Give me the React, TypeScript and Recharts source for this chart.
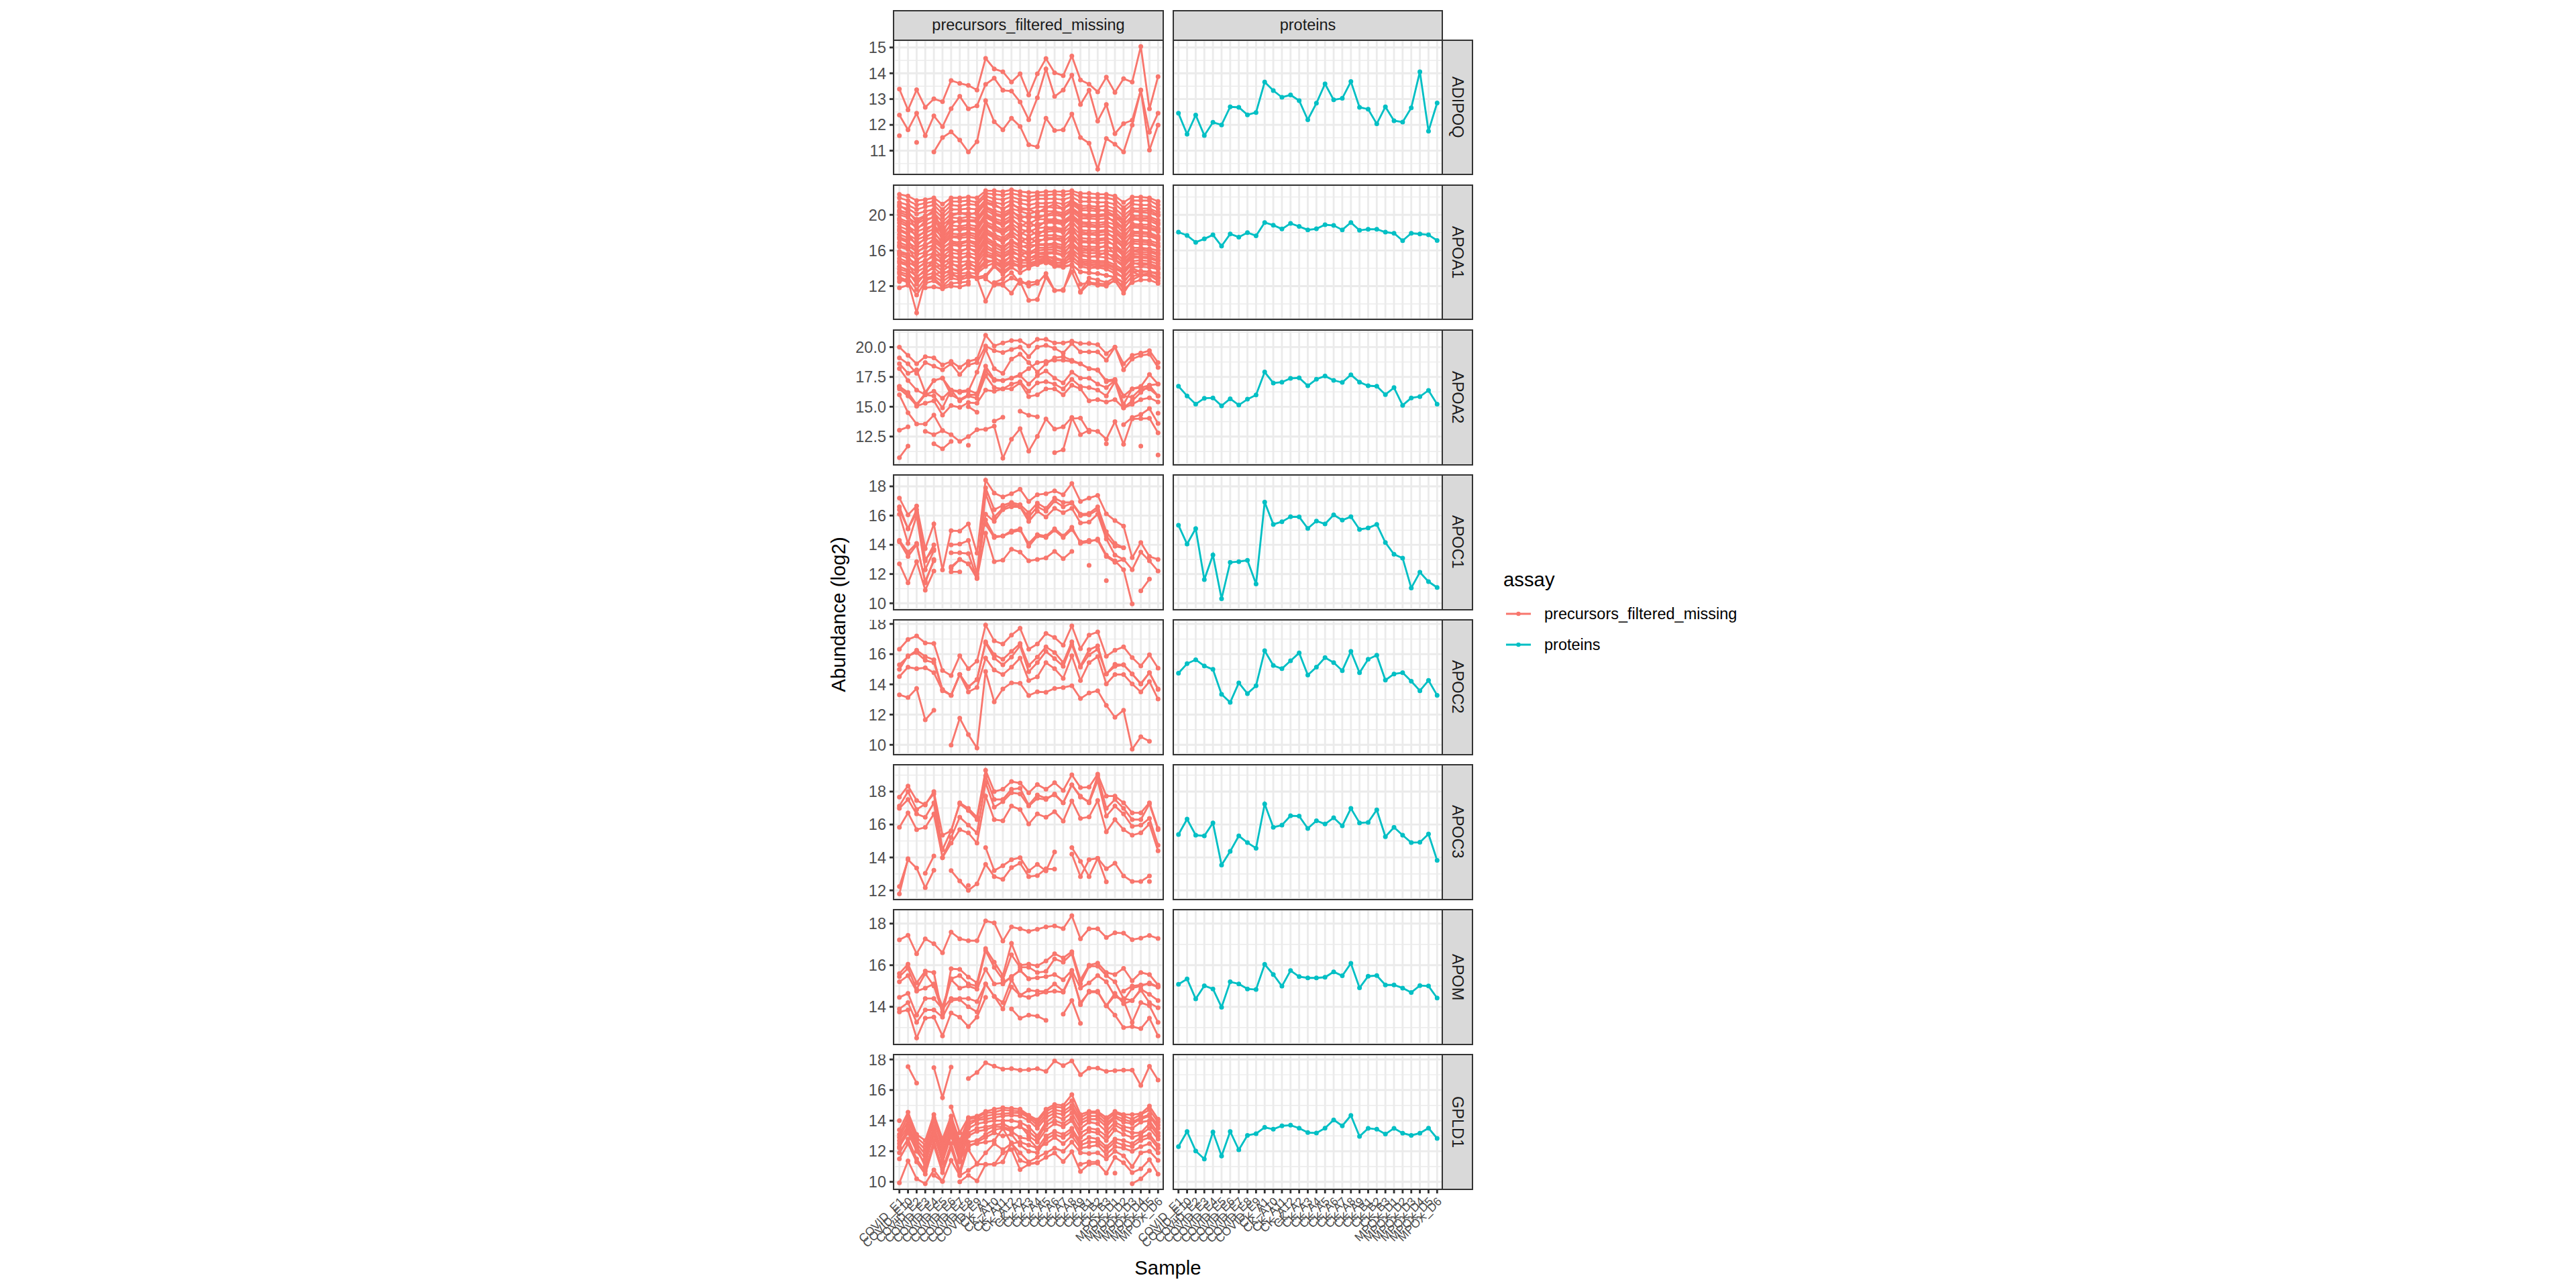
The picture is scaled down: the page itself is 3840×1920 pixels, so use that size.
import { CartesianGrid, Line, LineChart, ReferenceLine, XAxis, YAxis } from 'recharts';

const _ = null;

const samples = [
  'COVID_E1', 'COVID_E10', 'COVID_E2', 'COVID_E3', 'COVID_E4', 'COVID_E5', 'COVID_E6', 'COVID_E7', 'COVID_E8', 'COVID_E9',
  'CK_A1', 'CK_A10', 'CK_A11', 'CK_A12', 'CK_A2', 'CK_A3', 'CK_A4', 'CK_A5', 'CK_A6', 'CK_A7', 'CK_A8', 'CK_A9',
  'CK_B1', 'CK_B2', 'CK_B3',
  'MPOX_D1', 'MPOX_D2', 'MPOX_D3', 'MPOX_D4', 'MPOX_D5', 'MPOX_D6',
];

const adipoqProtein = [12.45, 11.64, 12.38, 11.59, 12.1, 12.0, 12.7, 12.68, 12.39, 12.48, 13.66, 13.33, 13.07, 13.16, 12.94, 12.2, 12.84, 13.59, 12.97, 13.03, 13.68, 12.68, 12.61, 12.04, 12.7, 12.16, 12.11, 12.66, 14.06, 11.76, 12.85];
const adipoqPrecursors = [
  [13.39, 12.58, 13.36, 12.68, 13.01, 12.9, 13.72, 13.61, 13.53, 13.35, 14.58, 14.17, 14.06, 13.66, 13.98, 13.16, 13.98, 14.57, 14.02, 13.91, 14.67, 13.74, 13.58, 13.28, 13.85, 13.26, 13.79, 13.66, 15.04, 12.62, 13.87],
  [12.38, 11.81, 12.45, 11.58, 12.35, 11.93, 12.63, 13.11, 12.62, 12.74, 13.57, 13.81, 13.34, 13.31, 12.89, 12.2, 13.05, 14.17, 13.1, 13.35, 13.93, 12.79, 13.34, 12.15, 12.79, 11.66, 12.05, 12.18, 13.35, 11.72, 12.45],
  [11.58, _, 11.32, _, 10.95, 11.51, 11.73, 11.41, 10.95, 11.35, 12.94, 12.12, 11.81, 12.26, 11.94, 11.23, 11.15, 12.26, 11.78, 11.81, 12.42, 11.51, 11.29, 10.28, 11.47, 11.25, 10.95, 11.99, 13.35, 11.02, 11.99],
];

const apoa1Protein = [18.06, 17.68, 16.92, 17.3, 17.75, 16.49, 17.85, 17.5, 18.0, 17.65, 19.14, 18.84, 18.41, 19.04, 18.69, 18.31, 18.43, 18.89, 18.81, 18.31, 19.14, 18.26, 18.38, 18.38, 18.06, 17.93, 17.1, 17.93, 17.85, 17.75, 17.12];
const apoa1Precursors = [
  [22.3, 22.1, 21.6, 21.7, 21.9, 21.2, 21.9, 21.9, 22.0, 21.9, 22.7, 22.7, 22.6, 22.8, 22.6, 22.5, 22.5, 22.6, 22.6, 22.6, 22.7, 22.4, 22.4, 22.3, 22.3, 22.1, 21.4, 22.0, 22.0, 21.9, 21.5],
  [21.9, 21.6, 21.1, 21.3, 21.5, 20.6, 21.5, 21.5, 21.6, 21.4, 22.4, 22.3, 22.2, 22.4, 22.2, 22.0, 22.2, 22.2, 22.3, 22.2, 22.4, 22.0, 21.9, 21.9, 21.9, 21.7, 20.8, 21.6, 21.6, 21.6, 21.1],
  [21.4, 21.1, 20.6, 20.9, 21.1, 20.1, 21.1, 21.0, 21.2, 21.1, 22.1, 21.8, 21.7, 22.0, 21.7, 21.6, 21.8, 21.8, 21.8, 21.7, 22.0, 21.5, 21.5, 21.4, 21.4, 21.2, 20.4, 21.2, 21.1, 21.1, 20.7],
  [21.1, 20.4, 19.2, 19.8, 20.5, 17.9, 19.9, 20.2, 20.0, 20.3, 21.4, 21.2, 20.6, 21.3, 20.6, 20.6, 20.2, 20.8, 21.2, 20.7, 21.5, 20.7, 20.8, 20.6, 20.4, 19.9, 19.3, 20.5, 20.4, 20.5, 20.0],
  [20.9, 20.7, 20.1, 20.4, 20.6, 19.7, 20.6, 20.6, 20.7, 20.6, 21.7, 21.4, 21.2, 21.6, 21.3, 21.1, 21.3, 21.3, 21.4, 21.2, 21.6, 21.0, 21.0, 20.9, 21.0, 20.7, 19.9, 20.7, 20.7, 20.7, 20.3],
  [20.5, 20.2, 19.5, 19.9, 20.2, 19.2, 20.1, 20.2, 20.2, 20.1, 21.3, 21.0, 20.7, 21.1, 20.8, 20.6, 20.9, 20.9, 20.8, 20.7, 21.2, 20.5, 20.5, 20.4, 20.6, 20.3, 19.4, 20.4, 20.3, 20.2, 19.9],
  [20.3, 19.9, 18.3, 19.3, 19.8, 17.6, 19.0, 19.4, 19.4, 19.4, 20.8, 20.2, 19.9, 20.5, 19.6, 19.9, 19.6, 20.0, 20.3, 19.9, 20.6, 19.9, 19.8, 19.8, 19.9, 19.1, 18.4, 19.7, 19.6, 19.6, 19.1],
  [20.0, 19.7, 19.0, 19.5, 19.7, 18.8, 19.7, 19.6, 19.8, 19.6, 20.9, 20.5, 20.2, 20.7, 20.4, 20.1, 20.4, 20.4, 20.4, 20.2, 20.8, 20.1, 20.0, 20.0, 20.1, 19.8, 18.9, 19.9, 19.9, 19.8, 19.4],
  [19.6, 19.2, 18.6, 18.9, 19.3, 18.4, 19.3, 19.2, 19.3, 19.2, 20.5, 20.0, 19.7, 20.3, 19.9, 19.6, 19.9, 19.9, 20.0, 19.8, 20.4, 19.6, 19.6, 19.5, 19.6, 19.4, 18.5, 19.5, 19.4, 19.3, 18.9],
  [19.4, 18.9, 17.4, 18.2, 18.9, 17.2, 18.2, 18.5, 18.6, 18.4, 19.9, 19.4, 19.0, 19.6, 18.7, 19.2, 18.6, 19.3, 19.3, 19.1, 19.8, 19.0, 18.9, 18.8, 19.0, 18.2, 17.3, 18.8, 18.7, 18.6, 18.3],
  [19.1, 18.7, 18.1, 18.5, 18.8, 17.9, 18.8, 18.7, 18.9, 18.7, 20.1, 19.6, 19.3, 19.9, 19.4, 19.0, 19.5, 19.5, 19.5, 19.3, 20.0, 19.2, 19.1, 19.1, 19.2, 18.9, 18.0, 19.0, 18.9, 18.9, 18.5],
  [18.7, 18.3, 17.7, 18.0, 18.4, 17.5, 18.4, 18.3, 18.4, 18.2, 19.7, 19.2, 18.8, 19.4, 18.9, 18.6, 19.0, 19.1, 19.1, 18.9, 19.6, 18.7, 18.7, 18.6, 18.7, 18.5, 17.6, 18.6, 18.5, 18.4, 18.1],
  [18.4, 17.9, 16.5, 17.4, 18.1, 16.8, 17.6, 17.6, 17.8, 17.5, 19.0, 18.5, 18.1, 18.8, 17.8, 18.4, 17.7, 18.4, 18.4, 18.2, 19.3, 18.1, 17.9, 18.0, 18.1, 17.3, 16.4, 17.9, 17.9, 17.8, 17.4],
  [18.2, 17.8, 17.2, 17.6, 17.9, 17.0, 17.9, 17.8, 18.0, 17.8, 19.2, 18.8, 18.3, 19.0, 18.4, 18.1, 18.5, 18.6, 18.6, 18.4, 19.1, 18.3, 18.2, 18.2, 18.3, 18.0, 17.1, 18.1, 18.1, 18.0, 17.6],
  [17.8, 17.4, 16.8, 17.2, 17.5, 16.6, 17.5, 17.4, 17.5, 17.3, 18.8, 18.3, 17.9, 18.5, 18.0, 17.6, 18.1, 18.1, 18.2, 18.0, 18.7, 17.8, 17.8, 17.7, 17.8, 17.6, 16.7, 17.7, 17.6, 17.6, 17.2],
  [17.5, 17.1, 15.7, 16.5, 17.3, 16.4, 16.8, 16.7, 17.0, 16.6, 18.1, 17.6, 17.1, 17.9, 16.9, 17.5, 16.9, 17.4, 17.4, 17.3, 18.6, 17.1, 17.0, 17.1, 17.2, 16.5, 15.6, 17.0, 17.0, 16.9, 16.5],
  [17.3, 16.9, 16.3, 16.7, 17.0, 16.2, 17.0, 16.9, 17.1, 16.9, 18.4, 17.8, 17.4, 18.1, 17.5, 17.1, 17.6, 17.7, 17.7, 17.5, 18.2, 17.4, 17.3, 17.3, 17.4, 17.1, 16.3, 17.2, 17.2, 17.1, 16.8],
  [16.9, 16.5, 15.9, 16.3, 16.6, 15.8, 16.6, 16.5, 16.6, 16.4, 17.9, 17.4, 16.9, 17.6, 17.1, 16.7, 17.2, 17.2, 17.3, 17.0, 17.8, 16.9, 16.9, 16.8, 16.9, 16.7, 15.8, 16.8, 16.7, 16.7, 16.4],
  [16.6, 16.3, 14.8, 15.6, 16.5, 15.9, 16.2, 15.8, 16.3, 15.7, 17.2, 16.7, 16.2, 17.0, 16.4, 16.6, 16.6, 16.6, 16.6, 16.3, 17.7, 16.3, 16.1, 16.2, 16.6, 15.6, 15.0, 16.0, 16.1, 16.0, 15.7],
  [16.4, 16.1, 15.5, 15.8, 16.2, 15.3, 16.1, 16.0, 16.2, 16.0, 17.5, 16.9, 16.4, 17.1, 16.6, 16.2, 16.7, 16.7, 16.8, 16.6, 17.3, 16.5, 16.4, 16.4, 16.4, 16.2, 15.4, 16.3, 16.3, 16.2, 16.0],
  [15.9, 15.6, 15.0, 15.4, 15.7, 14.9, 15.7, 15.6, 15.7, 15.5, 17.0, 16.4, 15.9, 16.6, 16.2, 15.7, 16.3, 16.3, 16.4, 16.1, 16.9, 16.0, 16.0, 15.9, 16.0, 15.8, 14.9, 15.9, 15.8, 15.8, 15.5],
  [15.7, 15.4, 13.9, 14.7, 15.6, 15.4, 15.4, 15.0, 15.5, 14.9, 16.3, 15.8, 15.3, 16.0, 15.4, 15.9, 15.7, 15.8, 15.8, 15.5, 16.8, 15.6, 15.3, 15.4, 15.8, 15.0, 14.4, 15.4, 15.3, 15.3, 14.9],
  [15.5, 15.1, 14.5, 14.9, 15.3, 14.5, 15.2, 15.2, 15.3, 15.1, 16.6, 16.0, 15.6, 16.2, 15.9, 15.5, 16.0, 16.1, 16.1, 15.8, 16.5, 15.8, 15.7, 15.7, 15.6, 15.4, 14.6, 15.6, 15.6, 15.5, 15.2],
  [15.1, 14.7, 14.1, 14.5, 14.8, 14.1, 14.8, 14.7, 14.8, 14.6, 15.9, 15.5, 15.2, 15.7, 15.5, 15.1, 15.6, 15.6, 15.7, 15.4, 16.1, 15.4, 15.3, 15.3, 15.2, 14.9, 14.2, 15.2, 15.2, 15.1, 14.8],
  [14.8, 14.5, 12.9, 13.9, 14.9, 14.9, 14.6, 14.0, 14.7, 14.0, 15.6, 15.3, 14.5, 15.5, 14.7, 15.2, 15.3, 15.4, 15.0, 14.8, 16.0, 14.8, 14.7, 14.6, 14.6, 14.1, 13.6, 14.6, 14.4, 14.4, 14.0],
  [14.6, 14.3, 13.6, 14.1, 14.4, 13.7, 14.4, 14.3, 14.4, 14.2, 15.4, 15.1, 14.8, 15.3, 15.0, 14.8, 15.2, 15.3, 15.2, 14.9, 15.6, 15.0, 14.9, 14.8, 14.8, 14.4, 13.8, 14.8, 14.9, 14.8, 14.5],
  [14.2, 13.8, 13.1, 13.6, 14.0, 13.3, 13.9, 13.8, 14.0, 13.8, 14.9, 14.8, 14.4, 14.9, 14.6, 14.6, 14.8, 15.0, 14.5, 14.7, 15.2, 14.6, 14.5, 14.4, 14.4, 14.0, 13.4, 14.5, 14.6, 14.5, 14.2],
  [13.9, 13.6, 12.2, 13.4, 14.2, 14.3, 14.0, 13.6, 14.2, 13.6, 14.6, 14.9, 14.1, 14.8, 14.0, 14.4, 14.9, 15.2, 14.7, 14.5, 15.4, 14.4, 14.3, 14.2, 14.2, 13.7, 12.9, 14.0, 13.6, 13.6, 13.3],
  [13.6, 13.3, 12.7, 13.2, 13.5, 12.9, 13.5, 13.4, 13.5, 13.4, 14.2, 14.6, 14.0, 14.6, 14.3, 14.3, 14.6, 14.9, 14.3, 14.4, 14.9, 14.2, 14.0, 14.1, 13.9, 13.4, 13.0, 14.1, 14.2, 14.1, 13.9],
  [13.4, 13.0, 11.6, 12.9, 13.1, 12.5, 13.2, 13.1, 13.2, 13.0, 13.2, 14.3, 13.6, 14.3, 14.3, 14.2, 14.4, 14.7, 14.2, 14.1, 14.4, 13.6, 13.5, 13.4, 13.2, 13.0, 12.4, 13.6, 13.7, 13.6, 13.5],
  [12.8, 12.4, 11.0, 12.5, 13.3, 13.6, 13.5, 12.8, 13.4, 12.8, 13.0, 14.2, 13.3, 14.1, 13.5, 14.0, 14.7, 14.6, 14.4, 14.2, 14.4, 13.6, 13.5, 13.4, 13.2, 13.0, 12.4, 13.6, 13.2, 13.3, 13.0],
  [13.0, 12.6, 9.0, 12.7, 12.9, 12.0, 12.9, 12.7, 13.0, 12.9, 10.3, 12.3, 12.3, 12.9, 12.5, 10.4, 10.5, 13.0, 11.5, 11.5, 14.3, 12.2, 12.4, 12.3, 12.2, 12.6, 11.2, 12.7, 13.2, 13.2, 12.6],
  [12.5, 12.9, _, 12.3, 12.6, 11.9, 12.3, 12.4, 12.5, _, 12.8, 12.1, 12.1, 11.2, 12.7, 12.0, 12.3, 13.4, 11.5, 11.6, 13.6, 11.4, 12.9, 12.7, 12.4, 13.0, 11.6, 12.4, 12.7, 12.7, 12.3],
  [11.8, 12.1, _, 11.8, 11.9, 11.7, 12.0, 11.9, 12.2, _, _, 12.4, 12.8, 13.5, 12.3, 12.4, 12.5, _, _, _, _, 11.3, 12.3, 12.1, 12.0, 12.7, 12.0, 13.1, 13.3, 13.4, 12.9],
];

const apoa2Protein = [16.72, 15.91, 15.22, 15.71, 15.74, 15.08, 15.67, 15.14, 15.63, 15.99, 17.91, 16.99, 17.06, 17.38, 17.42, 16.76, 17.31, 17.57, 17.21, 17.04, 17.68, 17.06, 16.76, 16.72, 16.02, 16.6, 15.12, 15.74, 15.85, 16.37, 15.22];
const apoa2Precursors = [
  [20.0, 19.3, 18.6, 19.2, 19.1, 18.5, 18.8, 18.3, 18.8, 19.0, 21.0, 20.1, 20.35, 20.55, 20.55, 20.1, 20.65, 20.65, 20.35, 20.35, 20.5, 20.3, 20.3, 20.2, 19.45, 20.0, 18.6, 19.3, 19.5, 19.7, 18.7],
  [19.1, 18.6, 17.8, 18.7, 18.4, 18.1, 18.6, 17.7, 18.5, 18.7, 20.1, 19.7, 19.55, 19.8, 20.0, 19.2, 20.0, 20.15, 19.9, 19.5, 20.3, 19.6, 19.6, 19.6, 18.9, 20.0, 18.1, 19.0, 19.3, 19.4, 18.3],
  [18.2, 17.2, 16.4, 16.0, 16.3, 15.7, 16.4, 16.2, 16.3, 17.9, 19.8, 18.2, 17.8, 19.0, 19.4, 18.7, 17.9, 18.6, 19.1, 19.2, 18.9, 18.6, 18.2, 18.1, 17.1, 17.2, 15.9, 15.8, 16.5, 16.5, 15.9],
  [18.6, 17.8, 18.1, 16.2, 17.2, 17.4, 16.4, 16.3, 16.4, 16.1, 18.4, 17.3, 17.2, 17.4, 17.7, 18.2, 18.7, 18.8, 18.9, 18.9, 18.8, 18.6, 18.2, 18.05, 17.2, 17.3, 15.2, 16.5, 16.6, 16.8, 16.9],
  [16.7, 16.2, 15.2, 16.1, 17.2, 17.4, 16.0, 15.6, 16.0, 16.0, 18.0, 17.2, 17.2, 17.4, 17.6, 16.9, 17.6, 18.0, 17.4, 17.0, 17.9, 17.4, 17.4, 16.9, 16.6, 17.2, 15.9, 16.5, 16.7, 17.7, 16.9],
  [16.5, 15.9, 15.1, 16.0, 15.9, 14.9, 16.4, 15.5, 15.9, 15.7, 17.6, 16.6, 16.5, 16.9, 17.1, 16.3, 17.0, 17.1, 16.9, 16.5, 17.3, 16.7, 16.6, 16.4, 15.9, 17.1, 14.9, 15.5, 16.2, 16.8, 15.9],
  [16.7, 16.1, 15.05, 15.3, 15.5, 14.3, 15.1, 14.95, 15.35, 15.3, 16.4, 16.3, 16.5, 16.5, 17.0, 15.85, 16.0, 16.5, 16.5, 16.0, 16.8, 16.5, 15.5, 15.6, 15.4, 15.6, 14.9, 15.2, 15.6, 15.75, 15.4],
  [16.0, 14.5, 13.55, 13.55, 14.3, 13.0, _, _, _, _, _, _, _, _, _, _, _, _, _, _, _, _, _, _, _, _, 13.5, 14.1, 14.35, 14.85, 13.6],
  [13.03, 13.31, _, 12.94, 12.66, 12.99, 12.66, 12.09, 12.5, 13.07, 13.11, 13.37, 10.68, 12.28, 13.16, 11.28, 12.52, 13.97, 13.13, 13.31, 14.11, 12.66, 13.03, 12.94, 12.28, 13.75, 11.85, 13.97, 14.0, 14.03, 12.81],
  [10.73, 11.7, _, _, 11.9, 11.47, 12.09, _, 11.77, _, _, _, _, _, _, _, _, _, 11.15, 11.39, 14.0, 14.05, 12.9, _, 11.9, _, _, _, 11.7, _, 10.96],
  [_, _, _, _, _, _, _, _, 15.0, 14.54, _, 13.79, 14.12, _, 14.63, 14.29, 14.16, _, _, _, _, _, _, _, _, _, _, _, _, _, 14.45],
];

const apoc1Protein = [15.34, 14.05, 15.11, 11.62, 13.31, 10.31, 12.8, 12.85, 12.94, 11.32, 16.92, 15.4, 15.58, 15.92, 15.91, 15.12, 15.63, 15.43, 16.05, 15.69, 15.92, 15.05, 15.15, 15.4, 14.15, 13.35, 13.09, 11.05, 12.12, 11.48, 11.08];
const apoc1Precursors = [
  [17.2, 16.05, 16.66, 13.74, 15.43, 12.28, 14.97, 14.94, 15.43, 13.43, 18.43, 17.54, 17.28, 17.5, 17.8, 16.97, 17.43, 17.5, 17.69, 17.43, 18.2, 16.97, 17.2, 17.38, 16.12, 15.66, 15.28, 13.12, 14.15, 13.2, 13.0],
  [16.6, 15.1, 16.4, 12.9, 14.0, _, 14.0, 14.05, 14.3, 12.0, 17.9, 16.4, 16.7, 16.9, 16.75, 16.2, 16.85, 16.5, 17.2, 16.9, 16.9, 16.1, 16.15, 16.6, 14.9, 14.1, 13.8, _, _, _, _],
  [16.4, 15.1, 16.2, 13.0, 13.7, _, 13.45, 13.45, 13.4, 11.7, 17.5, 15.9, 16.5, 16.8, 16.6, 15.9, 16.6, 16.3, 17.0, 16.6, 16.85, 16.0, 16.05, 16.4, 14.6, 13.9, 13.8, _, _, _, _],
  [16.1, 14.1, 16.0, 12.3, 13.6, _, 12.5, 13.0, 12.7, 11.8, 16.1, 15.6, 16.4, 16.6, 16.6, 15.6, 16.3, 15.9, 16.5, 16.2, 16.5, 15.5, 15.55, 16.1, 14.4, 13.3, 13.0, _, _, _, _],
  [14.3, 13.5, 14.1, 11.4, 13.0, _, 12.15, 12.15, _, _, 15.7, 14.6, 14.6, 14.85, 15.0, 14.1, 14.7, 14.6, 15.1, 14.6, 15.2, 14.1, 14.2, 14.4, 13.3, 12.9, 12.3, 9.95, _, _, _],
  [14.2, 13.2, 14.0, 11.5, 12.9, _, _, _, _, _, 15.4, 14.5, 14.6, 14.95, 15.1, 13.9, 14.6, 14.5, 15.0, 14.5, 15.05, 14.2, 14.3, 14.3, 13.2, 12.8, 13.0, 12.3, 13.5, 12.9, 12.2],
  [12.7, 11.4, 12.85, 10.9, 12.2, _, 12.4, 13.0, 12.7, 11.7, 14.8, 12.85, 12.95, 13.7, 13.5, 12.9, 13.0, 13.1, 13.55, 13.05, 13.55, _, 12.6, _, 11.55, _, _, _, 10.85, 11.65, _],
];

const apoc2Protein = [14.74, 15.37, 15.63, 15.22, 14.99, 13.34, 12.81, 14.1, 13.39, 13.91, 16.23, 15.25, 15.04, 15.56, 16.08, 14.62, 15.14, 15.77, 15.44, 14.91, 16.18, 14.77, 15.66, 15.93, 14.28, 14.69, 14.77, 14.21, 13.58, 14.26, 13.28];
const apoc2Precursors = [
  [16.33, 16.97, 17.2, 16.74, 16.7, 14.92, 14.59, 15.89, 15.04, 15.54, 17.93, 16.88, 16.67, 17.26, 17.71, 16.33, 16.67, 17.37, 17.1, 16.59, 17.87, 16.36, 17.26, 17.47, 15.86, 16.26, 16.48, 15.77, 15.22, 15.96, 15.07],
  [15.3, 15.84, 16.26, 15.84, 15.63, 13.65, 13.28, 14.65, 13.83, 14.32, 16.82, 15.96, 15.66, 16.18, 16.7, 15.25, 15.81, 16.48, 16.11, 15.44, 16.82, 15.22, 16.29, 16.55, 14.69, 15.33, 15.29, 14.69, 14.05, 14.77, 13.7],
  [15.0, 15.89, 16.11, 15.59, 15.44, 13.65, 13.28, 14.65, 13.83, 14.32, 16.74, 15.74, 15.29, 15.81, 16.55, 14.84, 15.44, 16.18, 15.71, 15.19, 16.63, 15.14, 15.96, 16.33, 14.69, 15.19, 15.29, 14.69, 14.02, 14.77, 13.66],
  [14.52, 15.14, 15.04, 15.1, 14.77, 13.58, 13.28, 14.65, 13.5, 13.8, 15.74, 14.95, 14.65, 15.14, 15.74, 14.25, 14.5, 15.44, 15.04, 14.4, 15.89, 14.25, 15.44, 15.84, 14.03, 14.65, 14.65, 14.03, 13.5, 14.18, 13.03],
  [13.31, 13.13, 13.73, 11.65, 12.29, _, 9.98, 11.76, 10.68, 9.79, 14.85, 12.84, 13.7, 14.1, 14.07, 13.26, 13.51, 13.48, 13.73, 13.79, 13.91, 13.06, 13.43, 13.58, 12.61, 11.82, 12.29, 9.71, 10.53, 10.23, _],
];

const apoc3Protein = [15.39, 16.33, 15.35, 15.31, 16.1, 13.54, 14.37, 15.31, 14.9, 14.56, 17.25, 15.83, 15.96, 16.53, 16.51, 15.76, 16.23, 16.03, 16.41, 15.92, 16.98, 16.1, 16.13, 16.89, 15.26, 15.83, 15.35, 14.9, 14.92, 15.42, 13.82];
const apoc3Precursors = [
  [17.66, 18.34, 17.46, 17.19, 18.0, 15.35, 15.62, 17.32, 16.98, 16.44, 19.29, 18.0, 18.14, 18.61, 18.52, 17.93, 18.43, 18.14, 18.54, 18.07, 19.02, 18.24, 18.27, 19.06, 17.73, 17.73, 17.32, 16.71, 16.71, 17.32, 15.76],
  [17.12, 18.0, 16.91, 17.25, 17.86, 14.47, 15.62, 17.25, 16.85, 16.3, 18.95, 17.52, 17.52, 18.14, 18.2, 17.18, 17.8, 17.59, 17.8, 17.32, 18.41, 17.66, 17.39, 18.95, 16.98, 17.52, 16.98, 16.3, 16.3, 17.25, 15.69],
  [16.98, 17.52, 16.64, 16.44, 17.32, 13.99, 15.21, 16.44, 15.96, 15.49, 18.54, 17.05, 17.39, 17.93, 17.86, 17.12, 17.59, 17.52, 17.86, 17.32, 18.41, 17.73, 17.32, 18.68, 16.51, 17.12, 16.64, 15.89, 15.96, 16.37, 14.74],
  [15.83, 16.71, 15.69, 15.83, 16.64, 13.99, 14.87, 15.69, 15.49, 14.87, 17.73, 16.3, 16.23, 17.12, 16.91, 16.03, 16.64, 16.44, 16.78, 16.21, 17.43, 16.37, 16.46, 17.46, 15.55, 16.3, 15.69, 15.35, 15.49, 16.03, 14.4],
  [12.23, 13.86, 13.35, 12.16, 13.22, _, 13.2, 12.57, 12.0, 12.4, 13.58, 12.84, 12.67, 13.38, 13.65, 12.84, 12.9, 13.31, 13.29, _, 14.2, 12.84, 13.86, 13.95, 13.31, 13.65, 12.88, 12.54, 12.54, 12.88, _],
  [11.79, 13.92, _, 13.04, 14.09, _, _, _, 12.29, _, 14.6, 13.2, 13.5, 13.86, 13.99, 13.18, 13.58, 13.18, 14.33, _, 14.6, 13.76, 12.84, 13.95, 12.52, _, _, _, _, 12.54, _],
];

const apomProtein = [15.08, 15.34, 14.38, 15.01, 14.86, 13.98, 15.2, 15.1, 14.86, 14.83, 16.04, 15.55, 14.99, 15.74, 15.45, 15.39, 15.39, 15.42, 15.68, 15.49, 16.09, 14.91, 15.47, 15.5, 15.05, 15.05, 14.9, 14.69, 15.02, 15.0, 14.42];
const apomPrecursors = [
  [17.22, 17.44, 16.55, 17.27, 17.03, 16.6, 17.59, 17.27, 17.18, 17.18, 18.13, 18.03, 17.16, 17.84, 17.75, 17.63, 17.73, 17.84, 17.89, 17.76, 18.38, 17.27, 17.75, 17.75, 17.33, 17.56, 17.54, 17.23, 17.3, 17.43, 17.28],
  [15.6, 16.05, 15.15, 15.72, 15.65, 13.6, 15.83, 15.8, 15.43, 15.15, 16.8, 16.15, 15.5, 17.05, 16.0, 16.05, 15.97, 16.2, 16.55, 16.35, 16.65, 15.3, 16.0, 16.1, 15.65, 15.55, 15.85, 15.25, 15.65, 15.55, 15.05],
  [15.45, 15.85, 14.85, 15.6, 15.0, 13.75, 15.35, 15.5, 15.1, 15.0, 16.7, 15.9, 15.3, 16.5, 15.9, 15.9, 15.65, 15.7, 16.3, 16.15, 16.55, 15.1, 15.95, 15.95, 15.5, 15.2, 14.4, 14.3, 14.85, 14.6, 14.3],
  [15.2, 15.5, 14.75, 14.9, 15.1, 14.0, 15.3, 14.9, 15.0, 14.85, 15.8, 15.1, 15.15, 15.45, 15.75, 15.35, 15.4, 15.45, 15.55, 15.3, 15.75, 14.9, 15.15, 15.5, 15.2, 14.5, 14.3, 14.9, 15.0, 15.15, 14.95],
  [14.45, 14.65, 13.6, 14.4, 14.4, 13.9, 14.4, 14.4, 14.4, 14.25, 15.1, 14.5, 14.2, 15.3, 14.55, 14.8, 14.75, 14.75, 15.1, 14.75, 15.6, 14.1, 14.75, 14.75, 14.05, 14.65, 14.15, 14.3, 14.8, 14.2, 13.95],
  [13.9, 14.2, 13.25, 13.85, 13.85, 13.5, 14.3, 14.35, 14.0, 13.75, 15.1, 14.5, 13.9, 14.95, 14.55, 14.45, 14.6, 14.7, 14.75, 14.7, 15.55, 14.2, 14.7, 14.7, 14.05, 14.55, 14.3, 13.25, 14.2, 14.05, 13.25],
  [13.75, 13.85, 12.5, 13.45, 13.5, 12.6, 13.7, 13.5, 13.05, 13.5, 14.45, _, _, 13.9, 13.45, 13.6, 13.55, 13.35, _, 13.65, 14.3, 13.2, _, _, 14.05, 13.6, 13.0, 13.05, 12.95, 13.45, 12.6],
  [_, _, _, _, _, _, _, _, _, _, _, _, 15.1, 15.45, 15.75, 15.35, _, _, _, _, _, _, _, _, _, _, 14.75, 15.0, 15.05, 15.1, 14.95],
];

const gpld1Protein = [12.3, 13.29, 12.02, 11.49, 13.26, 11.69, 13.29, 12.09, 13.04, 13.15, 13.56, 13.44, 13.66, 13.7, 13.51, 13.22, 13.19, 13.51, 14.05, 13.66, 14.34, 12.97, 13.5, 13.44, 13.12, 13.5, 13.18, 13.04, 13.18, 13.51, 12.84];
const gpld1Precursors = [
  [_, 17.53, 16.46, _, 17.47, 15.5, 17.5, _, 16.75, 17.15, 17.78, 17.56, 17.37, 17.4, 17.3, 17.33, 17.4, 17.22, 17.9, 17.6, 17.9, 17.0, 17.43, 17.43, 17.22, 17.27, 17.3, 17.3, 16.3, 17.55, 16.65],
  [14.0, _, _, _, _, _, 14.9, 13.2, 14.2, 14.3, 14.6, 14.75, 14.85, 14.8, 14.75, 14.35, 14.05, 14.75, 15.05, 15.0, 15.7, 14.4, 14.6, 14.6, 14.2, 14.6, 14.4, 14.4, 14.45, 14.95, 14.1],
  [13.4, 14.55, 13.1, 12.7, 14.4, 12.8, 14.3, 12.7, 14.1, 14.2, 14.5, 14.55, 14.7, 14.65, 14.6, 14.3, 13.9, 14.6, 14.9, 14.85, 15.3, 14.2, 14.5, 14.5, 14.0, 14.5, 14.3, 14.1, 14.4, 14.7, 13.9],
  [13.1, 14.3, 12.9, 12.4, 14.2, 12.5, 14.1, 12.4, 13.9, 14.1, 14.3, 14.4, 14.45, 14.5, 14.5, 14.2, 13.7, 14.4, 14.7, 14.6, 15.0, 14.0, 14.3, 14.3, 13.8, 14.3, 14.1, 13.9, 14.2, 14.4, 13.7],
  [12.9, 14.0, 12.7, 12.1, 14.0, 12.2, 13.8, 12.1, 13.7, 14.05, 14.1, 14.2, 14.3, 14.35, 14.3, 14.0, 13.5, 14.2, 14.5, 14.4, 14.8, 13.8, 14.1, 14.1, 13.6, 14.2, 13.9, 13.8, 14.1, 14.3, 13.5],
  [12.7, 13.7, 12.5, 11.8, 13.6, 11.9, 13.5, 11.8, 13.5, 13.8, 13.9, 14.0, 14.0, 14.0, 13.9, 13.6, 13.0, 13.9, 14.3, 14.1, 14.5, 13.5, 13.9, 13.8, 13.3, 13.9, 13.6, 13.5, 13.9, 14.0, 13.2],
  [12.5, 13.4, 12.3, 11.5, 13.3, 11.6, 13.2, 11.5, 13.2, 13.5, 13.6, 13.7, 13.8, 13.5, 13.6, 13.3, 12.8, 13.7, 14.0, 13.8, 14.2, 13.2, 13.5, 13.4, 13.0, 13.7, 13.4, 13.2, 13.2, 13.8, 13.0],
  [12.3, 13.2, 12.0, 11.2, 13.1, 11.3, 13.0, 11.3, 13.0, 13.3, 13.4, 13.6, 13.6, 13.4, 13.7, 13.0, 12.6, 13.4, 13.8, 13.6, 14.0, 12.9, 13.3, 13.2, 12.7, 13.4, 13.1, 12.9, 13.1, 13.5, 12.8],
  [11.9, 12.8, 11.5, 10.7, 12.7, 10.8, 12.5, 10.7, 12.6, 12.7, 13.1, 13.4, 13.5, 13.3, 12.9, 12.8, 12.2, 13.0, 13.3, 13.1, 13.5, 12.6, 12.9, 12.8, 12.3, 12.8, 12.7, 12.5, 12.9, 13.1, 12.4],
  [11.5, 12.5, 11.3, 10.5, 12.4, 10.6, 12.2, 10.5, 12.3, 12.6, 12.9, 13.2, 13.0, 13.1, 12.4, 12.0, 11.9, 12.8, 13.1, 12.9, 13.3, 12.4, 12.6, 12.6, 12.1, 12.6, 12.4, 12.3, 12.7, 12.9, 12.2],
  [12.2, 13.6, 12.2, 11.0, 13.5, 11.2, 13.7, 11.4, 12.4, 12.5, 12.6, 12.7, 13.5, 12.5, 12.6, 12.4, 12.2, 12.5, 12.9, 12.5, 13.0, 12.2, 12.3, 12.4, 11.8, 12.3, 12.2, 12.0, 12.3, 12.5, 11.9],
  [_, _, _, _, _, _, _, 12.0, 12.1, 11.2, 11.9, 12.5, 12.1, 12.5, 11.9, 11.3, 11.6, 11.9, 12.2, 12.0, 12.6, 11.9, 11.85, 11.9, 11.5, 12.0, 11.7, 11.0, 11.9, 12.0, 11.4],
  [9.93, 11.37, 10.2, 9.88, 10.78, 10.03, 11.4, 10.4, 10.75, 11.15, 11.15, 11.15, 11.3, 12.55, 11.4, 11.2, 11.25, 11.6, 11.88, 11.33, 11.97, 10.68, 11.15, 11.2, 10.57, 11.6, 11.25, 10.6, 10.85, 11.45, 10.5],
  [_, _, _, _, 10.43, 10.03, _, 10.0, 10.43, 10.06, 11.13, 11.15, 11.9, 12.1, 10.8, 11.15, 11.25, _, _, _, _, 11.15, 11.3, 11.3, _, 10.57, _, 9.88, 10.2, 10.75, _],
];

const panels = [
  { name: 'ADIPOQ', domain: [10.08, 15.28], ticks: [11, 12, 13, 14, 15], digits: 0, protein: adipoqProtein, precursors: adipoqPrecursors },
  { name: 'APOA1', domain: [8.27, 23.33], ticks: [12, 16, 20], digits: 0, protein: apoa1Protein, precursors: apoa1Precursors },
  { name: 'APOA2', domain: [10.18, 21.43], ticks: [12.5, 15, 17.5, 20], digits: 1, protein: apoa2Protein, precursors: apoa2Precursors },
  { name: 'APOC1', domain: [9.6, 18.78], ticks: [10, 12, 14, 16, 18], digits: 0, protein: apoc1Protein, precursors: apoc1Precursors },
  { name: 'APOC2', domain: [9.39, 18.27], ticks: [10, 12, 14, 16, 18], digits: 0, protein: apoc2Protein, precursors: apoc2Precursors },
  { name: 'APOC3', domain: [11.48, 19.63], ticks: [12, 14, 16, 18], digits: 0, protein: apoc3Protein, precursors: apoc3Precursors },
  { name: 'APOM', domain: [12.22, 18.67], ticks: [14, 16, 18], digits: 0, protein: apomProtein, precursors: apomPrecursors },
  { name: 'GPLD1', domain: [9.55, 18.32], ticks: [10, 12, 14, 16, 18], digits: 0, protein: gpld1Protein, precursors: gpld1Precursors },
];

const RED = '#F8766D';
const TEAL = '#00BFC4';
const FONT = '"Liberation Sans", Arial, sans-serif';
const LEFT_X = 1332.5;
const RIGHT_X = 1749;
const PANEL_W = 401;
const PANEL_H = 200;
const TOP_Y = 60;
const STEP_Y = 216.05;
const AXIS_W = 70;
const LABEL_H = 110;
const LW = 2.85;

// minor gridlines sit halfway between the majors, also past the ends
function minorBreaks(ticks: number[], domain: number[]) {
  const gap = ticks[1] - ticks[0];
  const out: number[] = [];
  for (let v = ticks[0] - gap / 2; v < domain[1]; v += gap) {
    if (v > domain[0]) out.push(v);
  }
  return out;
}

function SampleTick({ x, y, payload }: any) {
  const ax = x + 8;
  const ay = y + 11;
  return (
    <text x={ax} y={ay} transform={`rotate(-45 ${ax} ${ay})`} textAnchor="end" fontSize={17.6} fontFamily={FONT} fill="#4D4D4D">
      {payload.value}
    </text>
  );
}

function Panel({ left, top, info, lines, color, showY, showX }: any) {
  const rows = samples.map((s, i) => {
    const row: any = { sample: s };
    lines.forEach((l: any[], k: number) => {
      row[`s${k}`] = l[i];
    });
    return row;
  });
  return (
    <div style={{ position: 'absolute', left: left - AXIS_W, top }}>
      <LineChart
        width={PANEL_W + AXIS_W}
        height={PANEL_H + (showX ? LABEL_H : 0)}
        data={rows}
        margin={{ top: 0, right: 0, bottom: 0, left: showY ? 0 : AXIS_W }}
      >
        {minorBreaks(info.ticks, info.domain).map((v) => (
          <ReferenceLine key={v} y={v} stroke="#EBEBEB" strokeWidth={1.4} />
        ))}
        <CartesianGrid stroke="#EBEBEB" strokeWidth={LW} />
        <XAxis
          dataKey="sample"
          hide={!showX}
          interval={0}
          padding={{ left: 7.7, right: 7.7 }}
          height={LABEL_H}
          axisLine={false}
          tickSize={7}
          tickLine={{ stroke: '#333333', strokeWidth: LW }}
          tick={<SampleTick />}
        />
        <YAxis
          hide={!showY}
          width={AXIS_W}
          type="number"
          domain={info.domain}
          ticks={info.ticks}
          interval={0}
          axisLine={false}
          tickSize={7}
          tickMargin={5}
          tickLine={{ stroke: '#333333', strokeWidth: LW }}
          tick={{ fontSize: 23.5, fontFamily: FONT, fill: '#4D4D4D' }}
          tickFormatter={(v: number) => v.toFixed(info.digits)}
        />
        {lines.map((_l: any, k: number) => (
          <Line
            key={k}
            dataKey={`s${k}`}
            type="linear"
            stroke={color}
            strokeWidth={LW}
            connectNulls={false}
            dot={{ r: 3.5, fill: color, stroke: 'none' }}
            isAnimationActive={false}
          />
        ))}
      </LineChart>
    </div>
  );
}

function Box({ left, top, width, height, fill, children, vertical }: any) {
  return (
    <div
      style={{
        position: 'absolute',
        left: left - LW / 2,
        top: top - LW / 2,
        width: width + LW,
        height: height + LW,
        boxSizing: 'border-box',
        border: `${LW}px solid #333333`,
        background: fill || 'transparent',
        display: 'flex',
        alignItems: 'center',
        justifyContent: 'center',
        fontSize: 23.5,
        color: '#1A1A1A',
        writingMode: vertical ? 'vertical-rl' : undefined,
      }}
    >
      {children}
    </div>
  );
}

function LegendRow({ top, color, label }: any) {
  return (
    <div style={{ position: 'absolute', left: 2245, top, height: 30, display: 'flex', alignItems: 'center', fontSize: 23.5, color: '#000' }}>
      <svg width={37} height={10} style={{ marginRight: 20 }}>
        <line x1={0} x2={37} y1={5} y2={5} stroke={color} strokeWidth={LW} />
        <circle cx={18.5} cy={5} r={3.2} fill={color} />
      </svg>
      {label}
    </div>
  );
}

export default function App() {
  return (
    <div style={{ position: 'absolute', left: 0, top: 0, width: 3840, height: 1920, background: '#fff', fontFamily: FONT, overflow: 'hidden' }}>
      {panels.map((p, i) => {
        const top = TOP_Y + i * STEP_Y;
        const last = i === panels.length - 1;
        return (
          <div key={p.name}>
            <Panel left={LEFT_X} top={top} info={p} lines={p.precursors} color={RED} showY showX={last} />
            <Panel left={RIGHT_X} top={top} info={p} lines={[p.protein]} color={TEAL} showY={false} showX={last} />
            <Box left={LEFT_X} top={top} width={PANEL_W} height={PANEL_H} />
            <Box left={RIGHT_X} top={top} width={PANEL_W} height={PANEL_H} />
            <Box left={RIGHT_X + PANEL_W} top={top} width={45} height={PANEL_H} fill="#D9D9D9" vertical>
              {p.name}
            </Box>
          </div>
        );
      })}
      <Box left={LEFT_X} top={16} width={PANEL_W} height={44} fill="#D9D9D9">precursors_filtered_missing</Box>
      <Box left={RIGHT_X} top={16} width={PANEL_W} height={44} fill="#D9D9D9">proteins</Box>

      <div style={{ position: 'absolute', left: 1250, top: 916, fontSize: 29.3, color: '#000', whiteSpace: 'nowrap', transform: 'translate(-50%, -50%) rotate(-90deg)' }}>
        Abundance (log2)
      </div>
      <div style={{ position: 'absolute', left: 1741, top: 1890, fontSize: 29.3, color: '#000', whiteSpace: 'nowrap', transform: 'translate(-50%, -50%)' }}>
        Sample
      </div>

      <div style={{ position: 'absolute', left: 2241, top: 847, fontSize: 29.3, color: '#000' }}>assay</div>
      <LegendRow top={900} color={RED} label="precursors_filtered_missing" />
      <LegendRow top={946} color={TEAL} label="proteins" />
    </div>
  );
}
